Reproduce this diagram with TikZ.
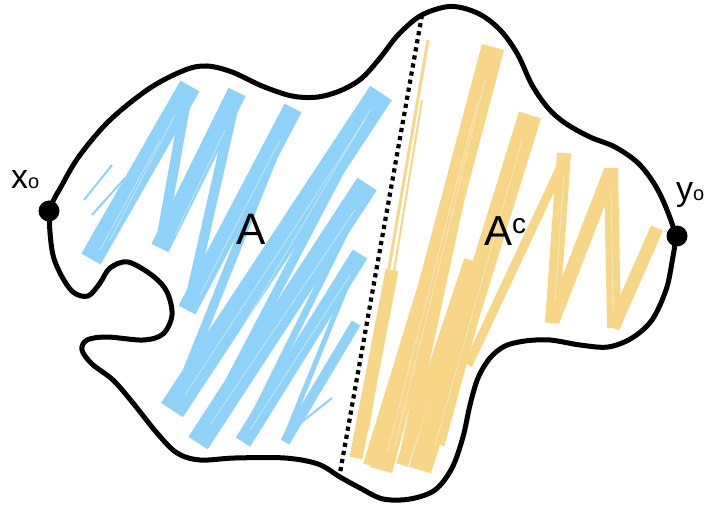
\documentclass[tikz,border=0pt]{standalone}
\usepackage{fontspec}
\setmainfont{Liberation Sans}
\definecolor{hatchblue}{RGB}{142,210,250}
\definecolor{hatchyellow}{RGB}{247,214,136}
\begin{document}
\begin{tikzpicture}[x=1pt,y=-1pt,
  outline/.style={draw=black, line width=5pt, line join=round},
  bstroke/.style={draw=hatchblue, line cap=butt, line join=round},
  ystroke/.style={draw=hatchyellow, line cap=butt, line join=round},
  streak/.style={draw=white, opacity=0.45, line width=0.8pt, line cap=round},
  dotnode/.style={circle, fill=black, minimum size=21pt, inner sep=0pt},
  lbl/.style={inner sep=0pt, anchor=base west}
]
\useasboundingbox (0,0) rectangle (707,505);

% ---------- blue hatching (A) ----------
\draw[bstroke, line width=22pt] (91,259) -- (190,86);
\draw[bstroke, line width=10pt] (188,90) -- (160,246);
\draw[bstroke, line width=19pt] (160,248) -- (237,92);
\draw[bstroke, line width=10pt] (236,96) -- (188,308);
\draw[bstroke, line width=19pt] (187,310) -- (293,108);
\draw[bstroke, line width=9pt] (291,112) -- (174,404);
\draw[bstroke, line width=26pt] (172,410) -- (381,93);
\draw[bstroke, line width=9pt] (378,98) -- (200,438);
\draw[bstroke, line width=23pt] (198,443) -- (367,184);
\draw[bstroke, line width=7pt] (366,190) -- (243,438);
\draw[bstroke, line width=17pt] (243,442) -- (360,254);
\draw[bstroke, line width=5pt] (358,258) -- (285,438);
\draw[bstroke, line width=10pt] (285,442) -- (356,323);
\draw[bstroke, line width=2pt] (84,200) -- (112,165);
\draw[bstroke, line width=2pt] (92,215) -- (125,178);
\draw[bstroke, line width=2pt] (298,425) -- (332,398);
% streaks
\draw[streak] (110,240) -- (175,115);
\draw[streak] (100,250) -- (160,140);
\draw[streak] (175,235) -- (225,130);
\draw[streak] (200,295) -- (280,140);
\draw[streak] (185,395) -- (365,120);
\draw[streak] (200,400) -- (370,110);
\draw[streak] (210,425) -- (355,210);
\draw[streak] (250,430) -- (350,275);

% ---------- yellow hatching (A^c) ----------
\draw[ystroke, line width=3pt] (357,455) -- (428,40);
\draw[ystroke, line width=2pt] (368,430) -- (422,100);
\draw[ystroke, line width=13pt] (356,458) -- (392,270);
\draw[ystroke, line width=10pt] (368,465) -- (440,230);
\draw[ystroke, line width=23pt] (381,470) -- (493,47);
\draw[ystroke, line width=10pt] (491,52) -- (403,462);
\draw[ystroke, line width=12pt] (402,465) -- (470,260);
\draw[ystroke, line width=23pt] (420,470) -- (530,115);
\draw[ystroke, line width=9pt] (528,120) -- (440,445);
\draw[ystroke, line width=9pt] (566,156) -- (468,365);
\draw[ystroke, line width=14pt] (552,323) -- (564,153);
\draw[ystroke, line width=14pt] (611,170) -- (553,320);
\draw[ystroke, line width=14pt] (611,168) -- (614,328);
\draw[ystroke, line width=13pt] (613,328) -- (657,228);
% streaks
\draw[streak] (395,445) -- (485,80);
\draw[streak] (388,450) -- (478,100);
\draw[streak] (435,445) -- (522,140);
\draw[streak] (555,300) -- (564,175);
\draw[streak] (611,190) -- (613,310);

% ---------- dividing dotted line ----------
\coordinate (dtop) at (422,15);
\coordinate (dbot) at (340,473);
\draw[line width=4.2pt, dash pattern=on 4.2pt off 4pt] (dtop) -- (dbot);

% ---------- outline ----------
\draw[outline] plot[smooth cycle, tension=0.55] coordinates {
 (50,211) (62,185) (80,155) (110,120) (150,88) (185,70) (207,66) (232,72)
 (262,86) (292,96) (318,97) (342,90) (362,78) (380,58) (398,35) (420,16)
 (445,7) (463,8) (483,16) (502,32) (518,55) (532,85) (548,108) (565,123)
 (590,137) (615,147) (638,163) (655,185) (667,210) (675,236) (672,262)
 (666,290) (652,320) (632,338) (608,347) (580,345) (550,340) (525,341)
 (505,346) (490,358) (478,378) (470,405) (463,437) (452,468) (435,490)
 (410,499) (383,499) (360,488) (340,477) (318,464) (285,458) (235,458)
 (200,460) (177,453) (157,433) (133,403) (113,380) (92,364) (82,350)
 (87,340) (107,337) (143,340) (163,334) (172,315) (167,292) (153,276)
 (128,262) (110,268) (100,283) (88,296) (73,292) (60,273) (52,250)};

% ---------- points ----------
\node[dotnode] (x0) at (49,211) {};
\node[dotnode] (y0) at (677,236) {};

% ---------- labels ----------
\node[lbl] (lx) at (11,189) {\fontsize{34}{34}\selectfont x{\fontsize{20}{20}\selectfont o}};
\node[lbl] (ly) at (676,201) {\fontsize{34}{34}\selectfont y{\fontsize{20}{20}\selectfont o}};
\node[lbl] (la) at (236,244) {\fontsize{44}{44}\selectfont A};
\node[lbl] (lac) at (484,246) {\fontsize{42}{42}\selectfont A\raisebox{13pt}{\fontsize{28}{28}\selectfont c}};
\end{tikzpicture}
\end{document}
